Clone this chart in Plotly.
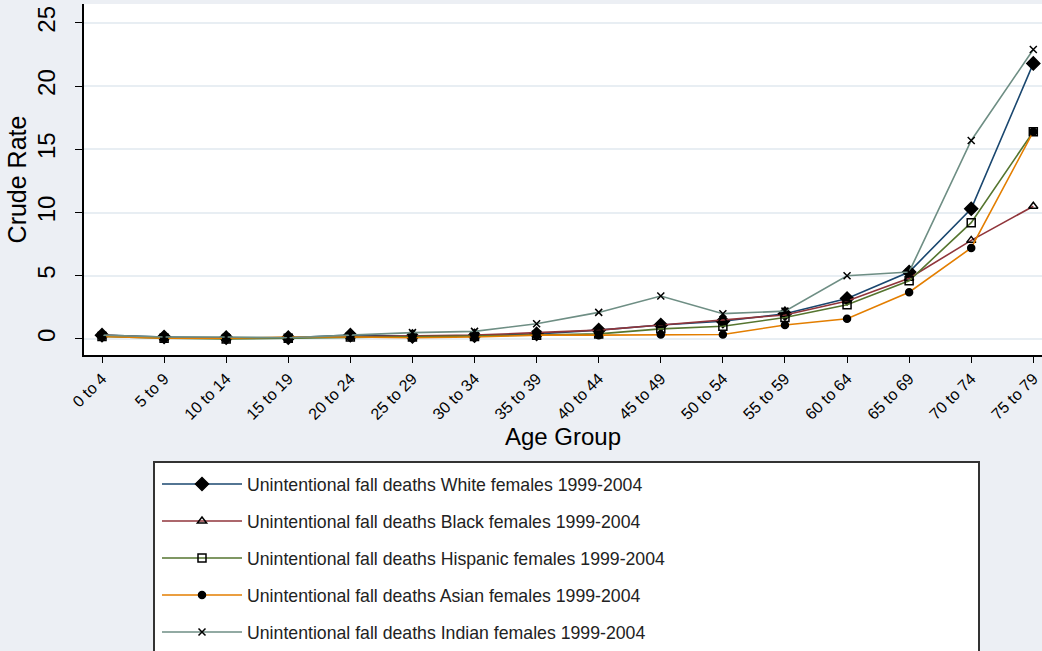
import plotly.graph_objects as go

age_groups = ["0 to 4", "5 to 9", "10 to 14", "15 to 19", "20 to 24", "25 to 29",
              "30 to 34", "35 to 39", "40 to 44", "45 to 49", "50 to 54", "55 to 59",
              "60 to 64", "65 to 69", "70 to 74", "75 to 79"]

white = [0.3, 0.15, 0.1, 0.1, 0.3, 0.2, 0.25, 0.4, 0.7, 1.1, 1.4, 2.0, 3.2, 5.3, 10.3, 21.8]
black = [0.3, 0.1, 0.05, 0.1, 0.2, 0.2, 0.3, 0.5, 0.7, 1.1, 1.5, 1.9, 3.0, 4.8, 7.8, 10.5]
hispanic = [0.2, 0.05, 0.0, 0.05, 0.15, 0.15, 0.2, 0.3, 0.4, 0.8, 1.0, 1.7, 2.7, 4.6, 9.2, 16.4]
asian = [0.2, 0.05, 0.05, 0.15, 0.15, 0.1, 0.15, 0.3, 0.3, 0.35, 0.35, 1.1, 1.6, 3.7, 7.2, 16.4]
indian = [0.3, 0.15, 0.15, 0.1, 0.3, 0.5, 0.6, 1.2, 2.1, 3.4, 2.0, 2.2, 5.0, 5.3, 15.7, 22.9]

series_names = [
    "Unintentional fall deaths White females 1999-2004",
    "Unintentional fall deaths Black females 1999-2004",
    "Unintentional fall deaths Hispanic females 1999-2004",
    "Unintentional fall deaths Asian females 1999-2004",
    "Unintentional fall deaths Indian females 1999-2004",
]
series_values = [white, black, hispanic, asian, indian]
colors = ["#1A476F", "#90353B", "#55752F", "#E37E00", "#6E8E84"]
symbols = ["diamond", "triangle-up-open", "square-open", "circle", "x-thin-open"]
sizes = [10, 8, 8, 7, 7]

BG = "#ECEFF4"
FONT = "Liberation Sans, Arial, sans-serif"

fig = go.Figure()
for i, (name, vals) in enumerate(zip(series_names, series_values)):
    fig.add_trace(go.Scatter(
        x=age_groups, y=vals, name=name, mode="lines+markers",
        legendgroup=f"g{i}",
        line=dict(color=colors[i], width=1.6),
        marker=dict(symbol=symbols[i], size=sizes[i], color="black",
                    line=dict(color="black", width=1.5)),
    ))

fig.update_layout(
    width=1042, height=651,
    paper_bgcolor=BG, plot_bgcolor="white",
    margin=dict(l=84, r=0, t=4, b=296, autoexpand=False),
    font=dict(family=FONT, color="black"),
    showlegend=True,
    legend=dict(
        x=(157 - 84) / 958, xanchor="left",
        y=(355 - 466) / 351, yanchor="top",
        bgcolor="rgba(0,0,0,0)", borderwidth=0,
        font=dict(size=17.7, family=FONT, color="#222"),
        tracegroupgap=11, itemwidth=80,
    ),
    shapes=[dict(
        type="rect", xref="paper", yref="paper",
        x0=(154 - 84) / 958, x1=(979 - 84) / 958,
        y0=(355 - 462) / 351, y1=(355 - 700) / 351,
        line=dict(color="#333", width=2), fillcolor="white", layer="below",
    )],
)

fig.update_xaxes(
    type="category", range=[-0.29, 15.14], automargin=False,
    tickangle=-45, tickfont=dict(size=16),
    ticks="outside", ticklen=6, tickcolor="black",
    showline=True, linecolor="black", linewidth=2,
    showgrid=False, zeroline=False,
    title=dict(text="Age Group", font=dict(size=24), standoff=0),
)
fig.update_yaxes(
    range=[-1.27, 26.5], tickvals=[0, 5, 10, 15, 20, 25], automargin=False,
    tickangle=-90, tickfont=dict(size=24), ticklabelstandoff=10,
    ticks="outside", ticklen=7, tickcolor="black",
    showline=True, linecolor="black", linewidth=2,
    showgrid=True, gridcolor="#E8EEF3", gridwidth=2, zeroline=False,
    title=dict(text="Crude Rate", font=dict(size=25), standoff=0),
)

fig.write_html("out.html", config={"displayModeBar": False},
               post_script="document.body.style.margin='0';")
